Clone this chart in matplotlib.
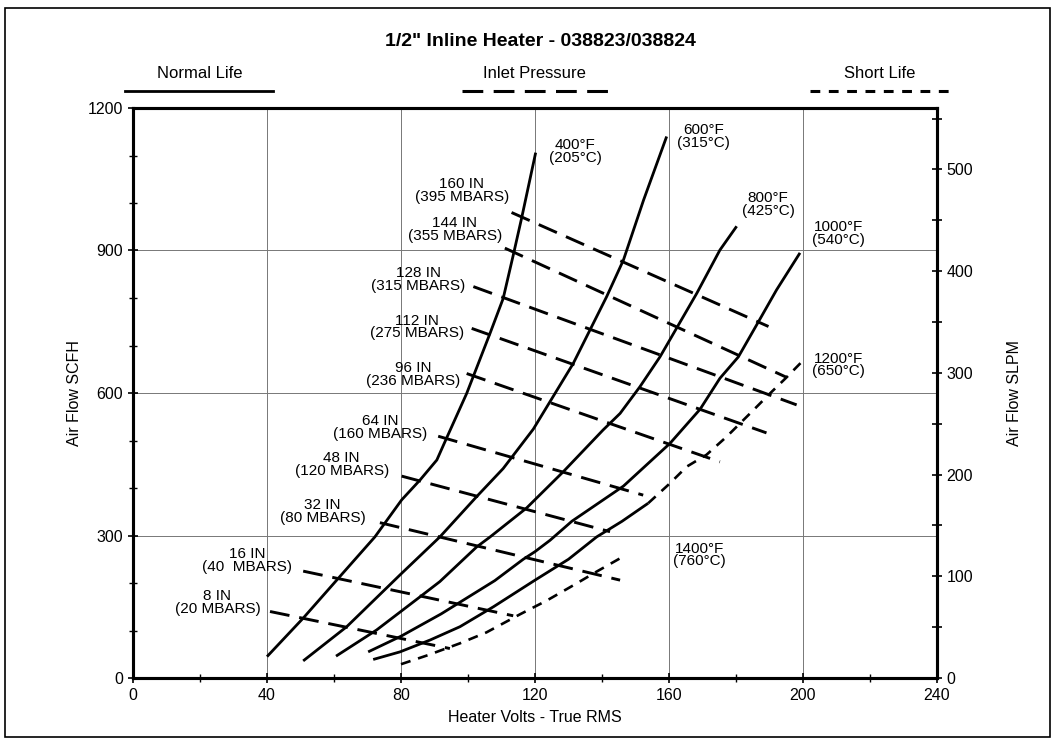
import matplotlib
matplotlib.use("Agg")
import matplotlib.pyplot as plt
from matplotlib.patches import Rectangle
from matplotlib.ticker import MultipleLocator

plt.rcParams["font.family"] = ["Liberation Sans", "DejaVu Sans"]

# constant temperature curves (volts, SCFH) - normal life part
t400_v = [40, 50.8, 61.3, 72.2, 80.2, 85.7, 90.7, 93.6, 99.6, 106.6, 110.5, 113.5, 116, 120.2]
t400_q = [45, 126, 210, 297, 375, 417, 459, 505, 599, 726, 799, 890, 968, 1106]

t600_v = [50.8, 63.8, 79.7, 91.6, 102.6, 110.5, 119.5, 124.5, 131.4, 141.4, 146.4, 152.4, 159.3]
t600_q = [36, 108, 217, 297, 382, 441, 524, 582, 662, 803, 880, 1006, 1140]

t800_v = [60.6, 72.7, 85.7, 91.6, 102.6, 106.6, 117.5, 128.4, 140.3, 145.4, 151.3, 157.3, 168.3, 175.2, 180.2]
t800_q = [46, 101, 171, 203, 276, 297, 358, 434, 522, 557, 613, 676, 810, 901, 951]

t1000_v = [70.2, 80, 92, 100, 108, 116.5, 120, 124.5, 131, 146.4, 160.3, 169.3, 175.2, 180.7, 186.7, 192.1, 199.1]
t1000_q = [55, 88, 135, 170, 205, 250, 266, 290, 330, 404, 494, 566, 631, 676, 750, 817, 895]

t1200_v = [71.7, 79.7, 88.7, 97.6, 107.6, 120, 130, 138.4, 146, 153.8]
t1200_q = [39, 55, 80, 108, 150, 206, 250, 297, 330, 368]

# short life parts
t1200s_v = [153.8, 160.3, 165.3, 171.2, 177.2, 185.2, 189.7, 195.1, 200.1]
t1200s_q = [368, 410, 445, 470, 508, 564, 596, 633, 669]

t1400_v = [80, 88, 97.6, 105.5, 115.5, 123.5, 132.4, 138.4, 146.4]
t1400_q = [29, 48, 73, 96, 134, 163, 199, 224, 256]

# inlet pressure lines: (start volts, start SCFH, end volts, end SCFH)
p160 = [113.0, 980, 189.7, 740]
p144 = [111.0, 905, 195.1, 633]
p128 = [101.6, 824, 198.1, 575]
p112 = [101.1, 736, 189.1, 516]
p96 = [99.6, 641, 175.2, 455]
p64 = [91.1, 509, 152.3, 385]
p48 = [80.2, 425, 142.4, 308]
p32 = [73.7, 327, 145.4, 206]
p16 = [50.8, 225, 113.5, 131]
p8 = [40.9, 140, 94.6, 62]

temp_labels = ["400°F\n(205°C)", "600°F\n(315°C)", "800°F\n(425°C)",
               "1000°F\n(540°C)", "1200°F\n(650°C)", "1400°F\n(760°C)"]
temp_label_v = [132.0, 170.2, 189.6, 210.5, 210.5, 169.0]
temp_label_q = [1108, 1140, 996, 936, 659, 259]

press_labels = ["160 IN\n(395 MBARS)", "144 IN\n(355 MBARS)", "128 IN\n(315 MBARS)",
                "112 IN\n(275 MBARS)", "96 IN\n(236 MBARS)", "64 IN\n(160 MBARS)",
                "48 IN\n(120 MBARS)", "32 IN\n(80 MBARS)", "16 IN\n(40  MBARS)",
                "8 IN\n(20 MBARS)"]
press_label_v = [98.1, 96.1, 85.2, 84.7, 83.7, 73.7, 62.3, 56.6, 34.0, 25.2]
press_label_q = [1026, 945, 839, 739, 639, 527, 450, 351, 247, 158]

SCFH_TO_SLPM = 0.467

fig = plt.figure(figsize=(10.55, 7.41), dpi=100)
ax = fig.add_axes([133 / 1055, 1 - 678 / 741, 804 / 1055, 570 / 741])

ax.set_xlim(0, 240)
ax.set_ylim(0, 1200)

solid = dict(color="black", lw=2.0, solid_capstyle="butt")
for v, q in [(t400_v, t400_q), (t600_v, t600_q), (t800_v, t800_q),
             (t1000_v, t1000_q), (t1200_v, t1200_q)]:
    ax.plot(v, q, **solid)

for v, q in [(t1200s_v, t1200s_q), (t1400_v, t1400_q)]:
    ax.plot(v, q, color="black", lw=1.9, dashes=(3.8, 3.0))

for p in [p160, p144, p128, p112, p96, p64, p48, p32, p16, p8]:
    ax.plot([p[0], p[2]], [p[1], p[3]], color="black", lw=2.1, dashes=(6.8, 3.4))

for t, v, q in zip(temp_labels, temp_label_v, temp_label_q):
    ax.text(v, q, t, ha="center", va="center", fontsize=11, linespacing=0.9)

for t, v, q in zip(press_labels, press_label_v, press_label_q):
    ax.text(v, q, t, ha="center", va="center", fontsize=11, linespacing=0.9)

ax.xaxis.set_major_locator(MultipleLocator(40))
ax.xaxis.set_minor_locator(MultipleLocator(20))
ax.yaxis.set_major_locator(MultipleLocator(300))
ax.yaxis.set_minor_locator(MultipleLocator(100))
ax.grid(True, which="major", color="#777777", lw=0.7)
ax.set_axisbelow(True)
ax.tick_params(which="both", direction="inout", labelsize=11.5, top=False, right=False)
ax.tick_params(which="major", length=7, width=1.2)
ax.tick_params(which="minor", length=6, width=1.0)

for s in ax.spines.values():
    s.set_linewidth(2.2)

ax.set_xlabel("Heater Volts - True RMS", fontsize=11.5, labelpad=5)
ax.set_ylabel("Air Flow SCFH", fontsize=11.5, labelpad=4)

ax2 = ax.twinx()
ax2.set_ylim(0, 1200 * SCFH_TO_SLPM)
ax2.yaxis.set_major_locator(MultipleLocator(100))
ax2.yaxis.set_minor_locator(MultipleLocator(50))
ax2.tick_params(which="both", direction="inout", labelsize=11.5)
ax2.tick_params(which="major", length=7, width=1.2)
ax2.tick_params(which="minor", length=7, width=1.2)
ax2.set_ylabel("Air Flow SLPM", fontsize=11.5, labelpad=24)
for s in ax2.spines.values():
    s.set_linewidth(2.2)

# title and line-style key
fig.text(540 / 1055, 1 - 41 / 741, '1/2" Inline Heater - 038823/038824',
         ha="center", va="center", fontsize=14, fontweight="bold")

key = [("Normal Life", 200, 125, 273, "-"),
       ("Inlet Pressure", 534, 462, 613, "pressure"),
       ("Short Life", 880, 810, 953, "short")]
for name, cx, x0, x1, style in key:
    fig.text(cx / 1055, 1 - 74 / 741, name, ha="center", va="center", fontsize=12)
    yy = 1 - 91 / 741
    if style == "-":
        fig.add_artist(plt.Line2D([x0 / 1055, x1 / 1055], [yy, yy], color="black", lw=2.0))
    elif style == "pressure":
        fig.add_artist(plt.Line2D([x0 / 1055, x1 / 1055], [yy, yy], color="black", lw=2.2,
                                  dashes=(6.8, 3.4)))
    else:
        fig.add_artist(plt.Line2D([x0 / 1055, x1 / 1055], [yy, yy], color="black", lw=2.2,
                                  dashes=(3.2, 2.8)))

fig.add_artist(Rectangle((5 / 1055, 4 / 741), 1045 / 1055, 729 / 741,
                         transform=fig.transFigure, fill=False, lw=1.2, color="black"))

fig.savefig("out.png", dpi=100)
plt.close(fig)
